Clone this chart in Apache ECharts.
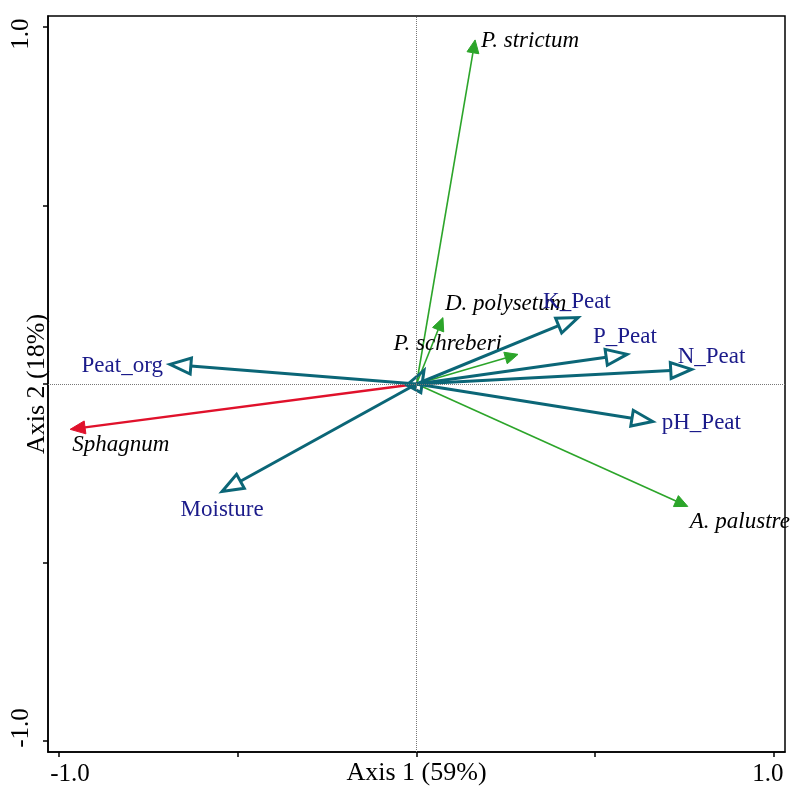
<!DOCTYPE html>
<html>
<head>
<meta charset="utf-8">
<script src="https://cdn.jsdelivr.net/npm/echarts@6/dist/echarts.min.js"></script>
<style>
  html, body { margin: 0; padding: 0; background: #fff; }
  #box { width: 795px; height: 789px; }
</style>
</head>
<body>
<div id="box"></div>
<script>
// environmental variables (axis 1, axis 2 scores)
var envNames = ['Peat_org', 'Moisture', 'K_Peat', 'P_Peat', 'N_Peat', 'pH_Peat', ''];
var envX = [-0.690, -0.544, 0.452, 0.589, 0.770, 0.661, 0.021];
var envY = [0.055, -0.301, 0.186, 0.083, 0.041, -0.105, 0.038];

// species
var spNames = ['P. strictum', 'D. polysetum', 'P. schreberi', 'A. palustre', 'Sphagnum'];
var spX = [0.164, 0.074, 0.284, 0.759, -0.969];
var spY = [0.964, 0.186, 0.083, -0.343, -0.127];

var tickValues = [-1, -0.5, 0, 0.5, 1];
var labelValues = [-1, 1];

// label placement (pixel offsets from arrow tip)
var envLabelPos = [[-7, 2, 'right'], [0, 19, 'center'], [-35, -16, 'left'], [-34, -17, 'left'],
                   [-14, -12, 'left'], [9, 1, 'left'], [0, 0, 'left']];
var spLabelPos = [[6, 1, 'left'], [2, -14, 'left'], [-16, -10, 'right'], [2, 16, 'left'], [2, 16, 'left']];

var TEAL = '#0b6677', GREEN = '#2ca52a', RED = '#e0112b', NAVY = '#1b1b8a';
var FONT = '"Liberation Serif", "Times New Roman", serif';

var envData = envX.map(function (x, i) { return [x, envY[i], i]; });
var spData = spX.map(function (x, i) { return [x, spY[i], i]; });

function arrow(api, x, y, o) {
  var s = api.coord([0, 0]);
  var e = api.coord([x, y]);
  var dx = e[0] - s[0], dy = e[1] - s[1];
  var len = Math.sqrt(dx * dx + dy * dy) || 1;
  var ux = dx / len, uy = dy / len;
  var bx = e[0] - ux * o.headLen, by = e[1] - uy * o.headLen;
  var px = -uy * o.headW, py = ux * o.headW;
  var kids = [];
  kids.push({
    type: 'line',
    shape: { x1: s[0], y1: s[1], x2: bx, y2: by },
    style: { stroke: o.color, lineWidth: o.lineWidth }
  });
  kids.push({
    type: 'polygon',
    shape: { points: [[e[0], e[1]], [bx + px, by + py], [bx - px, by - py]] },
    style: o.hollow
      ? { fill: 'none', stroke: o.color, lineWidth: o.lineWidth, lineJoin: 'miter' }
      : { fill: o.color, stroke: o.color, lineWidth: 1 }
  });
  if (o.text) {
    kids.push({
      type: 'text',
      style: {
        text: o.text, x: e[0] + o.pos[0], y: e[1] + o.pos[1],
        align: o.pos[2], verticalAlign: 'middle',
        fill: o.textColor, font: o.font
      },
      z2: 10
    });
  }
  return { type: 'group', children: kids };
}

function tickRich(padLo, padHi) {
  var base = { fontFamily: FONT, fontSize: 25, color: '#000' };
  return {
    lo: Object.assign({ padding: padLo }, base),
    hi: Object.assign({ padding: padHi }, base)
  };
}
function tickFmt(v) {
  return (v < 0 ? '{lo|' : '{hi|') + v.toFixed(1) + '}';
}

var myChart = echarts.init(document.getElementById('box'));

var option = {
  backgroundColor: '#fff',
  animation: false,
  grid: {
    left: 48, right: 10, top: 16, bottom: 37,
    containLabel: false, outerBoundsMode: 'none',
    show: true, borderColor: '#000', borderWidth: 1.5
  },
  xAxis: {
    type: 'value', min: -1.031, max: 1.031,
    name: 'Axis 1 (59%)', nameLocation: 'middle', nameGap: 8, nameMoveOverlap: false,
    nameTextStyle: { fontFamily: FONT, fontSize: 26, color: '#000', verticalAlign: 'top' },
    axisLine: { show: true, onZero: false, lineStyle: { color: '#000', width: 1.5 } },
    axisTick: { show: true, inside: false, length: 5, customValues: tickValues, lineStyle: { color: '#000', width: 1.5 } },
    axisLabel: {
      customValues: labelValues, margin: 10,
      fontFamily: FONT, fontSize: 25, color: '#000',
      formatter: tickFmt,
      rich: tickRich([0, 0, 0, 22], [0, 12, 0, 0])
    },
    splitLine: { show: false }
  },
  yAxis: {
    type: 'value', min: -1.031, max: 1.031,
    name: 'Axis 2 (18%)', nameLocation: 'middle', nameGap: -2, nameMoveOverlap: false,
    nameTextStyle: { fontFamily: FONT, fontSize: 26, color: '#000' },
    axisLine: { show: true, onZero: false, lineStyle: { color: '#000', width: 1.5 } },
    axisTick: { show: true, inside: false, length: 5, customValues: tickValues, lineStyle: { color: '#000', width: 1.5 } },
    axisLabel: {
      customValues: labelValues, margin: 14, rotate: 90,
      fontFamily: FONT, fontSize: 25, color: '#000',
      formatter: tickFmt,
      rich: tickRich([0, 0, 0, 26], [0, 14, 0, 0])
    },
    splitLine: { show: false }
  },
  series: [
    {
      type: 'line', data: [], silent: true,
      markLine: {
        silent: true, symbol: 'none', label: { show: false },
        lineStyle: { type: 'dotted', color: '#777', width: 1 },
        data: [{ xAxis: 0 }, { yAxis: 0 }]
      }
    },
    {
      type: 'custom', data: spData, z: 3,
      renderItem: function (params, api) {
        var i = api.value(2);
        var isRed = spNames[i] === 'Sphagnum';
        return arrow(api, api.value(0), api.value(1), {
          color: isRed ? RED : GREEN,
          lineWidth: isRed ? 2.5 : 1.6,
          headLen: isRed ? 15 : 13, headW: isRed ? 6.5 : 6,
          hollow: false,
          text: spNames[i], pos: spLabelPos[i],
          textColor: '#000', font: 'italic 23px ' + FONT
        });
      }
    },
    {
      type: 'custom', data: envData, z: 4,
      renderItem: function (params, api) {
        var i = api.value(2);
        return arrow(api, api.value(0), api.value(1), {
          color: TEAL, lineWidth: 3,
          headLen: 21, headW: 8,
          hollow: true,
          text: envNames[i], pos: envLabelPos[i],
          textColor: NAVY, font: '23px ' + FONT
        });
      }
    }
  ]
};
myChart.setOption(option);
</script>
</body>
</html>
